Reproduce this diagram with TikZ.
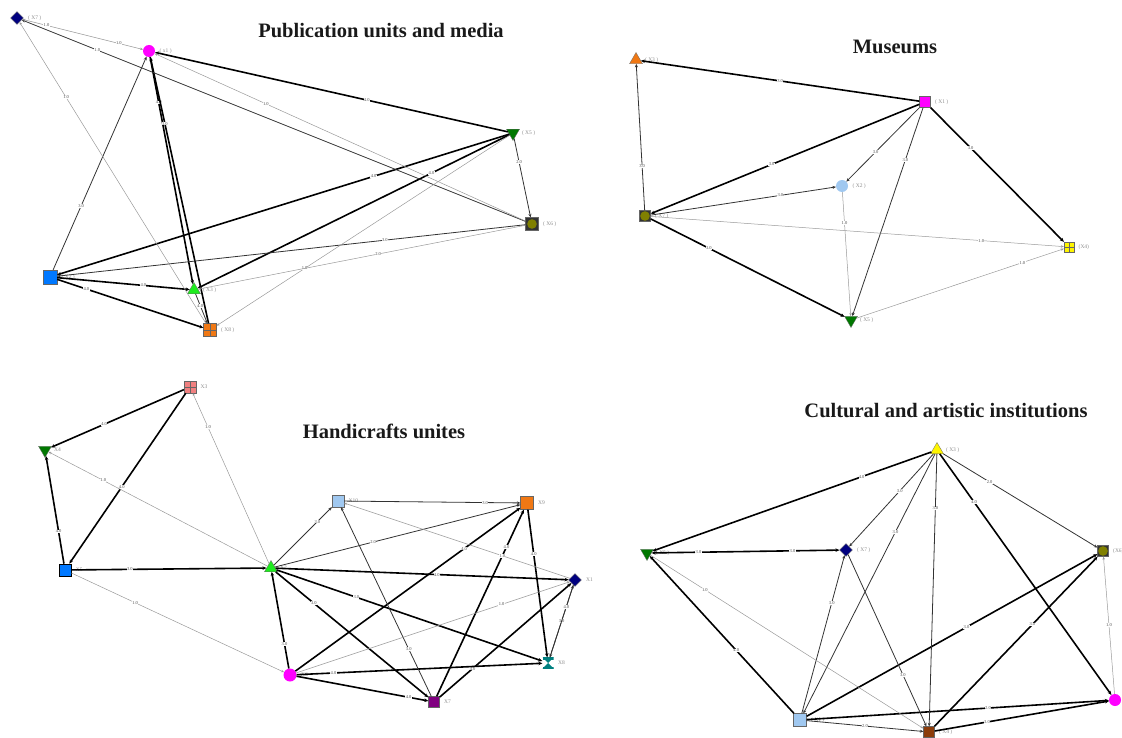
\documentclass[tikz,border=0pt]{standalone}
\usepackage{fontspec}
\setmainfont{Liberation Serif}
\usetikzlibrary{shapes.geometric,arrows.meta}

\definecolor{navyv}{RGB}{0,0,128}
\definecolor{magv}{RGB}{255,0,255}
\definecolor{dgreenv}{RGB}{0,120,0}
\definecolor{lgreenv}{RGB}{30,235,30}
\definecolor{bluev}{RGB}{0,120,255}
\definecolor{orangev}{RGB}{240,120,20}
\definecolor{olivev}{RGB}{128,128,0}
\definecolor{skyv}{RGB}{160,200,240}
\definecolor{yellowv}{RGB}{255,245,0}
\definecolor{pinkv}{RGB}{240,128,128}
\definecolor{tealv}{RGB}{0,128,128}
\definecolor{purplev}{RGB}{128,0,128}
\definecolor{brownv}{RGB}{140,60,10}

\tikzset{
  vtx/.style={draw=black!60, line width=0.3pt, inner sep=0pt, minimum size=10pt},
  sq/.style={vtx, rectangle, fill=#1},
  dot/.style={vtx, circle, fill=#1, draw=none, minimum size=12pt},
  dia/.style={vtx, diamond, fill=#1, minimum size=13pt},
  uptri/.style={vtx, regular polygon, regular polygon sides=3, fill=#1, minimum size=15pt},
  dntri/.style={uptri=#1, shape border rotate=180},
  gridsq/.style={sq=#1, path picture={
      \draw[black!60, line width=0.3pt]
        (path picture bounding box.north) -- (path picture bounding box.south)
        (path picture bounding box.west) -- (path picture bounding box.east);}},
  ringsq/.style={sq=black!80, minimum size=11pt, path picture={
      \fill[olivev] (path picture bounding box.center) circle (4.8pt);}},
  hourglass/.style={vtx, rectangle, draw=none, minimum size=11pt, path picture={
      \fill[#1] (path picture bounding box.north west) -- (path picture bounding box.north east)
        -- (path picture bounding box.south west) -- (path picture bounding box.south east) -- cycle;
      \fill[#1] ([yshift=-2pt]path picture bounding box.north west) rectangle ([yshift=2pt]path picture bounding box.north east);
      \fill[#1] ([yshift=2pt]path picture bounding box.south west) rectangle (path picture bounding box.south east);}},
  vlab/.style={font=\fontsize{5.5}{6}\selectfont, text=black!45},
  wlab/.style={font=\fontsize{4.5}{5}\selectfont, text=black!70, fill=white, inner sep=0.3pt},
  heavy/.style={line width=1.6pt, black, -{Stealth[length=4pt,width=3.5pt]}},
  medium/.style={line width=0.8pt, black!80, -{Stealth[length=3.5pt,width=3pt]}},
  light/.style={line width=0.5pt, black!40, -{Stealth[length=3pt,width=2.5pt]}},
  ttl/.style={font=\bfseries\fontsize{20.5}{22}\selectfont, text=black!90}
}

\begin{document}
\begin{tikzpicture}[x=1pt, y=-1pt, label distance=1pt]
\useasboundingbox (0,0) rectangle (1122,738);

% ---- Publication units and media
\node[ttl] (t1) at (381,31) {Publication units and media};
\node[dia=navyv, label={[vlab]right:( X7 )}] (x7) at (17,18) {};
\node[dot=magv, label={[vlab]right:( x1 )}] (x1) at (149,51) {};
\node[dntri=dgreenv, label={[vlab]right:( X5 )}] (x5) at (513,133) {};
\node[ringsq, minimum size=13pt, label={[vlab]right:( X6 )}] (x6) at (532,224) {};
\node[sq=bluev, minimum size=14pt, label={[vlab]right:( X2 )}] (x2) at (50,277) {};
\node[uptri=lgreenv, label={[vlab]right:( X3 )}] (x3) at (194,290) {};
\node[gridsq=orangev, minimum size=13pt, label={[vlab]right:( X8 )}] (x8) at (210,330) {};

\foreach \a/\b/\w/\p in {x1/x3/4.0/.2, x8/x1/3.0/.75, x5/x1/4.0/.4, x5/x2/4.0/.3,
    x5/x3/4.0/.25, x2/x3/4.0/.65, x2/x8/4.0/.2}
  \draw[heavy] (\a) -- node[wlab, pos=\p] {\w} (\b);
\foreach \a/\b/\w/\p in {x2/x1/3.0/.3, x6/x7/1.0/.85, x5/x6/2.0/.3, x6/x2/3.0/.3, x3/x8/4.0/.4}
  \draw[medium] (\a) -- node[wlab, pos=\p] {\w} (\b);
\foreach \a/\b/\w/\p in {x8/x7/1.0/.75, x6/x1/1.0/.7, x5/x8/1.0/.7, x6/x3/2.0/.45}
  \draw[light] (\a) -- node[wlab, pos=\p] {\w} (\b);
\draw[light, {Stealth[length=3pt,width=2.5pt]}-{Stealth[length=3pt,width=2.5pt]}] (x7) --
  node[wlab, pos=.2] {1.0} node[wlab, pos=.8] {1.0} (x1);

% ---- Museums
\node[ttl] (t2) at (895,47) {Museums};
\node[uptri=orangev, label={[vlab]right:( X3 )}] (m3) at (636,60) {};
\node[sq=magv, minimum size=11pt, label={[vlab]right:( X1 )}] (m1) at (925,102) {};
\node[dot=skyv, label={[vlab]right:( X2 )}] (m2) at (842,186) {};
\node[ringsq, label={[vlab]right:( X7 )}] (m7) at (645,216) {};
\node[gridsq=yellowv, label={[vlab]right:(X4)}] (m4) at (1069,247) {};
\node[dntri=dgreenv, label={[vlab]right:( X5 )}] (m5) at (851,320) {};

\foreach \a/\b/\w/\p in {m1/m3/3.0/.5, m1/m7/3.0/.55, m7/m5/3.0/.3, m1/m4/3.0/.3}
  \draw[heavy] (\a) -- node[wlab, pos=\p] {\w} (\b);
\foreach \a/\b/\w/\p in {m7/m3/3.0/.3, m1/m2/3.0/.6, m7/m2/3.0/.7, m1/m5/3.0/.25}
  \draw[medium] (\a) -- node[wlab, pos=\p] {\w} (\b);
\foreach \a/\b/\w/\p in {m7/m4/1.0/.8, m2/m5/1.0/.25, m5/m4/1.0/.8}
  \draw[light] (\a) -- node[wlab, pos=\p] {\w} (\b);

% ---- Handicrafts unites
\node[ttl] (t3) at (384,431) {Handicrafts unites};
\node[gridsq=pinkv, minimum size=12pt, label={[vlab]right:X3}] (h3) at (190,387) {};
\node[dntri=dgreenv, label={[vlab]right:X4}] (h4) at (45,450) {};
\node[sq=bluev, draw=black, line width=0.6pt, minimum size=12pt, label={[vlab]right:X5}] (h5) at (65,570) {};
\node[uptri=lgreenv, label={[vlab]right:X2}] (h2) at (271,568) {};
\node[sq=skyv, minimum size=12pt, label={[vlab]right:X10}] (h10) at (338,501) {};
\node[sq=orangev, minimum size=13pt, label={[vlab]right:X9}] (h9) at (527,503) {};
\node[dia=navyv, label={[vlab]right:X1}] (h1) at (575,580) {};
\node[hourglass=tealv, label={[vlab]right:X8}] (h8) at (548,663) {};
\node[dot=magv, minimum size=13pt, label={[vlab]right:X6}] (h6) at (290,675) {};
\node[sq=purplev, minimum size=11pt, label={[vlab]right:X7}] (h7) at (434,702) {};

\foreach \a/\b/\w/\p in {h3/h4/4.0/.6, h3/h5/4.0/.55, h5/h4/4.0/.3, h5/h2/3.0/.3,
    h2/h1/4.0/.55, h2/h8/3.0/.3, h2/h7/3.0/.25, h6/h2/3.0/.25, h6/h9/4.0/.75,
    h7/h9/4.0/.8, h9/h8/4.0/.3, h7/h1/4.0/.25, h6/h8/4.0/.15, h6/h7/4.0/.85}
  \draw[heavy] (\a) -- node[wlab, pos=\p] {\w} (\b);
\foreach \a/\b/\w/\p in {h2/h10/3.0/.75, h2/h9/2.0/.4, h10/h9/3.0/.8, h7/h10/3.0/.25,
    h8/h1/3.0/.5, h1/h8/4.0/.3}
  \draw[medium] (\a) -- node[wlab, pos=\p] {\w} (\b);
\foreach \a/\b/\w/\p in {h2/h3/1.0/.8, h2/h4/1.0/.75, h5/h6/1.0/.3, h1/h10/1.0/.3, h6/h1/1.0/.75}
  \draw[light] (\a) -- node[wlab, pos=\p] {\w} (\b);

% ---- Cultural and artistic institutions
\node[ttl] (t4) at (946,411) {Cultural and artistic institutions};
\node[uptri=yellowv, label={[vlab]right:( X3 )}] (c3) at (937,450) {};
\node[dntri=dgreenv, label={[vlab]right:( X5 )}] (c5) at (647,553) {};
\node[dia=navyv, label={[vlab]right:( X7 )}] (c7) at (846,550) {};
\node[ringsq, label={[vlab]right:(X6)}] (c6) at (1103,551) {};
\node[sq=skyv, minimum size=13pt, label={[vlab]right:( X1 )}] (c1) at (800,720) {};
\node[sq=brownv, minimum size=11pt, label={[vlab]right:( X4 )}] (c4) at (929,732) {};
\node[dot=magv] (c2) at (1115,700) {};

\foreach \a/\b/\w/\p in {c3/c5/4.0/.25, c1/c5/4.0/.4, c3/c2/4.0/.2, c1/c6/3.0/.55,
    c4/c6/3.0/.6, c1/c2/2.0/.6, c4/c2/3.0/.3}
  \draw[heavy] (\a) -- node[wlab, pos=\p] {\w} (\b);
\draw[heavy, {Stealth[length=4pt,width=3.5pt]}-{Stealth[length=4pt,width=3.5pt]}] (c5) --
  node[wlab, pos=.25] {3.0} node[wlab, pos=.75] {3.0} (c7);
\foreach \a/\b/\w/\p in {c3/c7/3.0/.4, c3/c1/3.0/.3, c3/c4/3.0/.2, c3/c6/2.0/.3,
    c1/c7/3.0/.7, c7/c4/3.0/.7, c1/c4/2.0/.5}
  \draw[medium] (\a) -- node[wlab, pos=\p] {\w} (\b);
\foreach \a/\b/\w/\p in {c5/c4/1.0/.2, c2/c6/1.0/.5}
  \draw[light] (\a) -- node[wlab, pos=\p] {\w} (\b);

\end{tikzpicture}
\end{document}
